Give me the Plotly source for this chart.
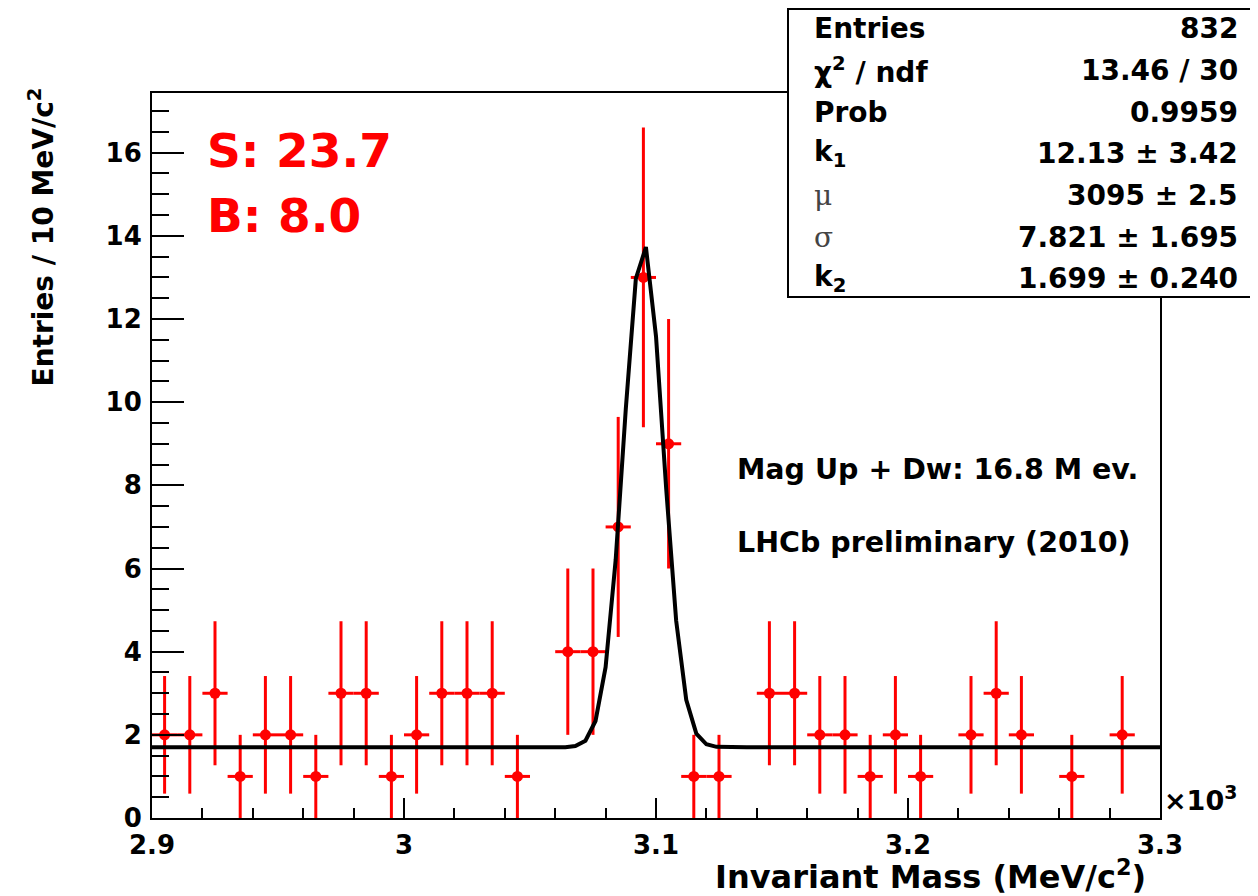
import numpy as np
import plotly.graph_objects as go

# ---------------- data ----------------
hist_low_edge = 2900.0          # MeV
bin_width = 10.0                # MeV
counts = [2, 2, 3, 1, 2, 2, 1, 3, 3, 1,
          2, 3, 3, 3, 1, 0, 4, 4, 7, 13,
          9, 1, 1, 0, 3, 3, 2, 2, 1, 2,
          1, 0, 2, 3, 2, 0, 1, 0, 2, 0]

# fit parameters (Gaussian + constant)
k1 = 12.13
mu = 3095.0
sigma = 7.821
k2 = 1.699

x_tick_vals = [2900, 3000, 3100, 3200, 3300]
x_tick_text = ["2.9", "3", "3.1", "3.2", "3.3"]
y_tick_vals = [0, 2, 4, 6, 8, 10, 12, 14, 16]
y_tick_text = ["0", "2", "4", "6", "8", "10", "12", "14", "16"]

stats_labels = ["Entries", "χ<sup>2</sup> / ndf", "Prob", "k<sub>1</sub>", "μ", "σ", "k<sub>2</sub>"]
stats_values = ["832", "13.46 / 30", "0.9959", "12.13 ± 3.42", "3095 ± 2.5",
                "7.821 ± 1.695", "1.699 ± 0.240"]

signal_text = "S: 23.7"
background_text = "B: 8.0"
info_texts = ["Mag Up + Dw: 16.8 M ev.", "LHCb preliminary (2010)"]

# ---------------- derived ----------------
centers = [hist_low_edge + bin_width * (i + 0.5) for i in range(len(counts))]
xs = [c for c, n in zip(centers, counts) if n > 0]
ys = [n for n in counts if n > 0]
errs = [float(np.sqrt(n)) for n in ys]
y_max = 1.05 * max(n + np.sqrt(n) for n in counts)

x_fit = np.linspace(hist_low_edge, hist_low_edge + bin_width * len(counts), 101)
y_fit = k1 * np.exp(-0.5 * ((x_fit - mu) / sigma) ** 2) + k2

# ---------------- layout helpers ----------------
OFF = 8                        # default page body margin
W, H = 1258 - OFF, 896 - OFF
L, R, T, B = 152, 1160, 93, 818   # plot frame in window pixels


def px(xp):
    return (xp - L) / (R - L)


def py(yp):
    return (B - yp) / (B - T)


FONT = "DejaVu Sans"
RED = "#ff0000"

fig = go.Figure()

fig.add_trace(go.Scatter(
    x=xs, y=ys, mode="markers",
    marker=dict(color=RED, size=11, symbol="circle"),
    error_y=dict(type="data", array=errs, color=RED, thickness=3, width=0),
    error_x=dict(type="constant", value=bin_width / 2, color=RED, thickness=3, width=0),
    hoverinfo="x+y",
))

fig.add_trace(go.Scatter(
    x=x_fit, y=y_fit, mode="lines",
    line=dict(color="black", width=4),
    hoverinfo="skip",
))

tickfont = dict(family=FONT, size=26, color="black", weight="bold")

fig.update_xaxes(
    range=[hist_low_edge, hist_low_edge + bin_width * len(counts)],
    tickmode="array", tickvals=x_tick_vals, ticktext=x_tick_text,
    ticks="inside", ticklen=20, tickwidth=2, tickcolor="black",
    minor=dict(ticks="inside", dtick=20, tick0=2900, ticklen=10, tickwidth=2,
               tickcolor="black", showgrid=False),
    showline=True, linecolor="black", linewidth=2, mirror=True,
    showgrid=False, zeroline=False, tickfont=tickfont, ticklabelstandoff=3,
)
fig.update_yaxes(
    range=[0, y_max],
    tickmode="array", tickvals=y_tick_vals, ticktext=y_tick_text,
    ticks="inside", ticklen=32, tickwidth=2, tickcolor="black",
    minor=dict(ticks="inside", dtick=0.5, tick0=0, ticklen=17, tickwidth=2,
               tickcolor="black", showgrid=False),
    showline=True, linecolor="black", linewidth=2, mirror=True,
    showgrid=False, zeroline=False, tickfont=tickfont, ticklabelstandoff=3,
)

annotations = []
# axis titles
annotations.append(dict(
    text="<b>Invariant Mass (MeV/c<sup>2</sup>)</b>", xref="paper", yref="paper",
    x=px(1148), y=py(875), xanchor="right", yanchor="middle", showarrow=False,
    font=dict(family=FONT, size=32, color="black")))
annotations.append(dict(
    text="<b>Entries / 10 MeV/c<sup>2</sup></b>", xref="paper", yref="paper",
    x=px(42), y=py(86), xanchor="center", yanchor="top", textangle=-90, showarrow=False,
    font=dict(family=FONT, size=28, color="black")))
annotations.append(dict(
    text="<b>×10<sup>3</sup></b>", xref="paper", yref="paper",
    x=px(1162), y=py(798), xanchor="left", yanchor="middle", showarrow=False,
    font=dict(family=FONT, size=27, color="black")))

# S and B
annotations.append(dict(
    text="<b>" + signal_text + "</b>", xref="paper", yref="paper",
    x=px(205), y=py(150), xanchor="left", yanchor="middle", showarrow=False,
    font=dict(family=FONT, size=47, color=RED)))
annotations.append(dict(
    text="<b>" + background_text + "</b>", xref="paper", yref="paper",
    x=px(205), y=py(215), xanchor="left", yanchor="middle", showarrow=False,
    font=dict(family=FONT, size=47, color=RED)))

# info texts
for t, yp in zip(info_texts, [469, 542]):
    annotations.append(dict(
        text="<b>" + t + "</b>", xref="paper", yref="paper",
        x=px(735), y=py(yp), xanchor="left", yanchor="middle", showarrow=False,
        font=dict(family=FONT, size=28.5, color="black")))

# stats box
row_y = [28, 70, 112, 153, 195, 237, 278]
for lab, val, yp in zip(stats_labels, stats_values, row_y):
    if lab in ("μ", "σ"):
        lab_txt = lab
        lab_font = dict(family="DejaVu Serif", size=28, color="#444444")
    else:
        lab_txt = "<b>" + lab + "</b>"
        lab_font = dict(family=FONT, size=28, color="black")
    annotations.append(dict(
        text=lab_txt, xref="paper", yref="paper",
        x=px(812), y=py(yp), xanchor="left", yanchor="middle", showarrow=False,
        font=lab_font))
    annotations.append(dict(
        text="<b>" + val + "</b>", xref="paper", yref="paper",
        x=px(1240), y=py(yp), xanchor="right", yanchor="middle", showarrow=False,
        font=dict(family=FONT, size=28, color="black")))

fig.update_layout(
    width=W, height=H,
    margin=dict(l=L - OFF, r=W - (R - OFF), t=T - OFF, b=H - (B - OFF)),
    plot_bgcolor="white", paper_bgcolor="white",
    showlegend=False,
    annotations=annotations,
    shapes=[dict(type="rect", xref="paper", yref="paper",
                 x0=px(788), x1=px(1257), y0=py(297), y1=py(9),
                 line=dict(color="black", width=2), fillcolor="white", layer="above")],
)

fig.write_html("out.html")
